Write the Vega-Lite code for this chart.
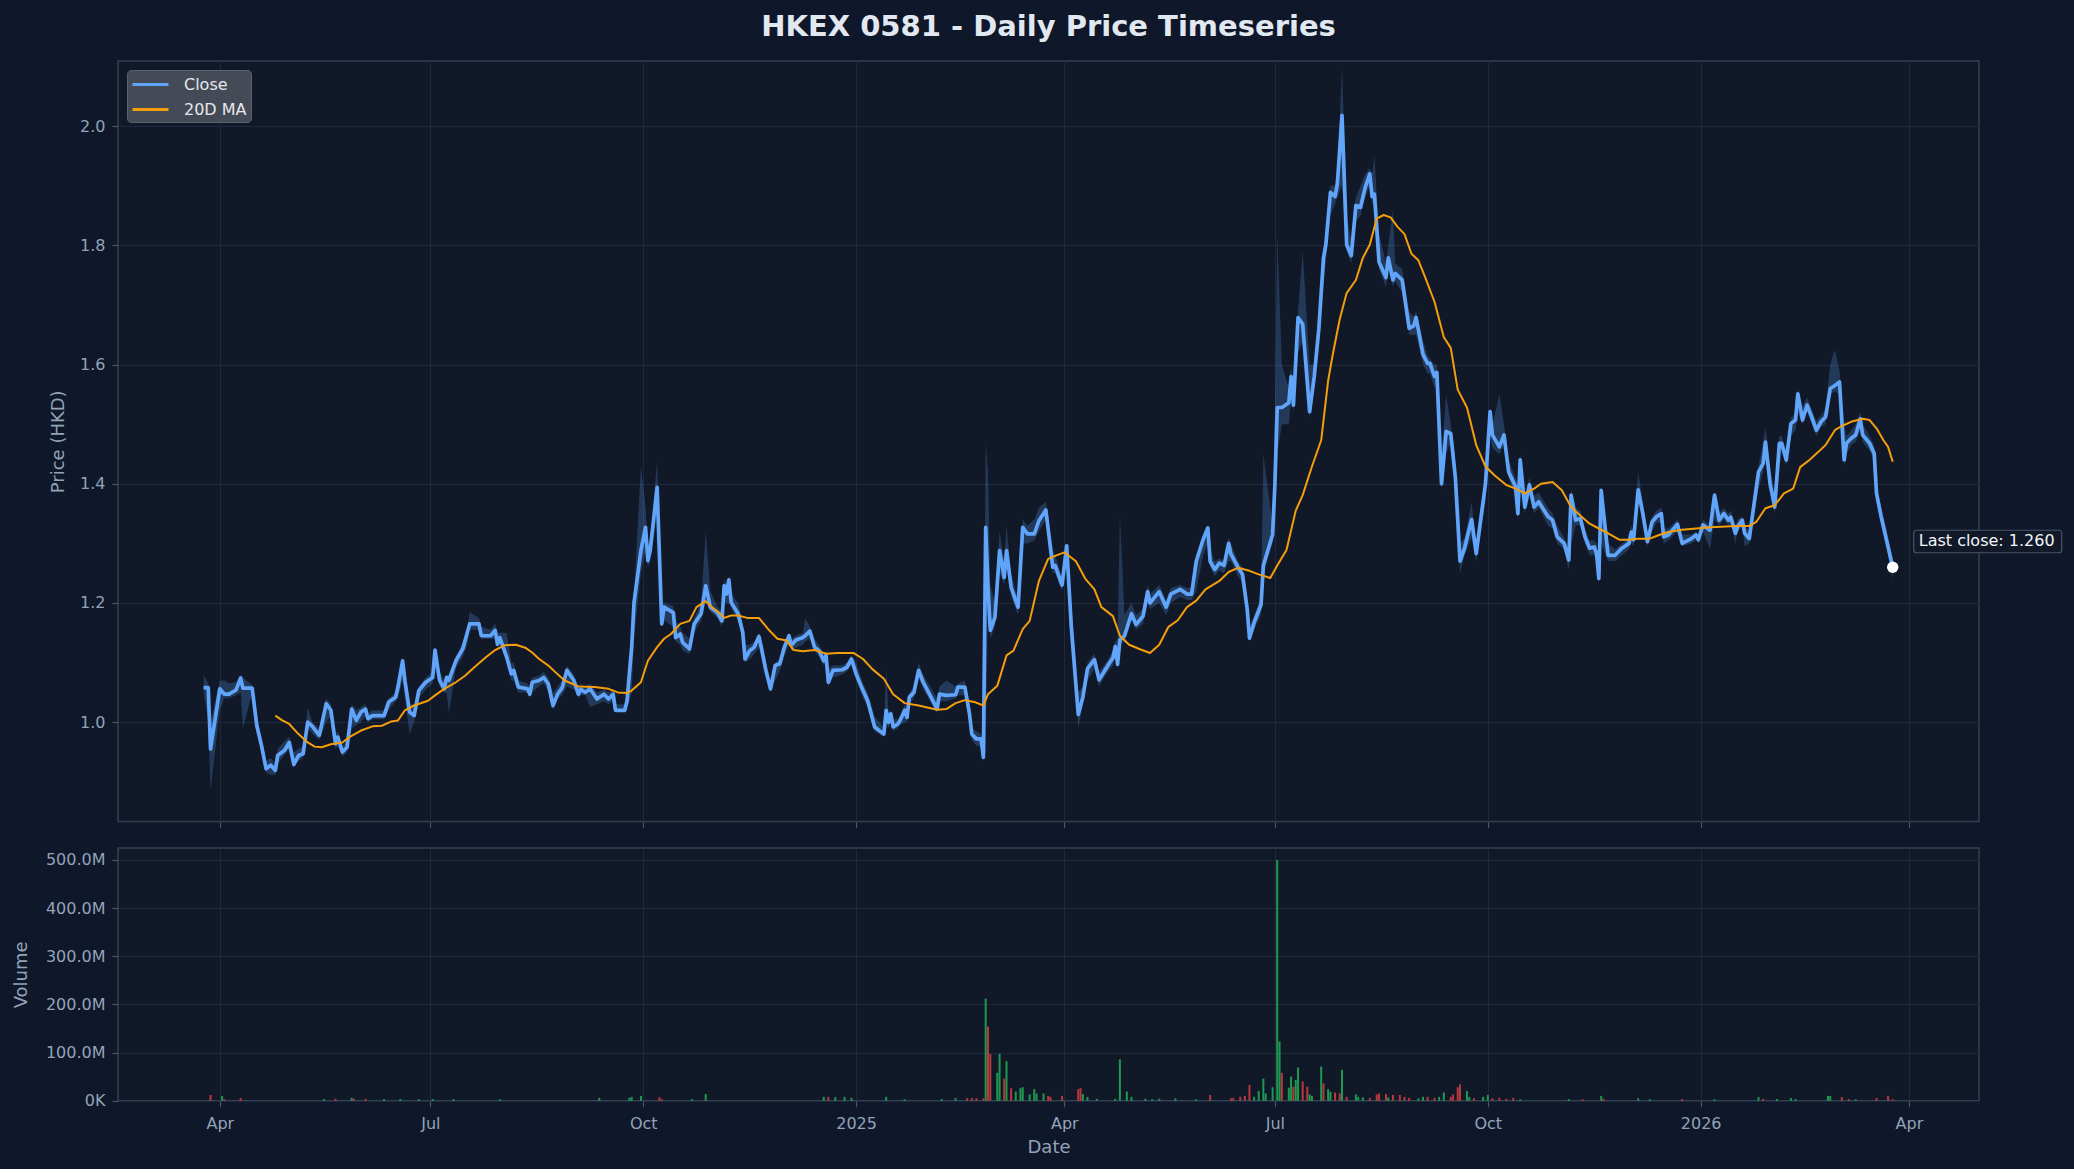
{
  "$schema": "https://vega.github.io/schema/vega-lite/v6.json",
  "background": "#0f172a",
  "padding": {"left": 11, "top": 12, "right": 11, "bottom": 11},
  "config": {
    "font": "DejaVu Sans",
    "view": {"fill": "#111827", "stroke": "#334155", "strokeWidth": 1.5},
    "axis": {
      "domain": false, "grid": true, "gridColor": "#1e293b", "gridWidth": 1,
      "tickColor": "#475569", "tickSize": 6, "tickWidth": 1.2,
      "labelColor": "#94a3b8", "labelFont": "DejaVu Sans", "labelFontSize": 16, "labelPadding": 7,
      "titleColor": "#94a3b8", "titleFont": "DejaVu Sans", "titleFontSize": 18, "titleFontWeight": "normal"
    }
  },
  "resolve": {"scale": {"color": "independent"}, "legend": {"color": "independent"}},
  "datasets": {
    "px": [
      {"t":"2024-03-25","c":1.058,"h":1.08,"l":1.05},
      {"t":"2024-03-27","c":1.058,"h":1.065,"l":1.0},
      {"t":"2024-03-28","c":0.955,"h":1.0,"l":0.885},
      {"t":"2024-04-01","c":1.056,"h":1.07,"l":1.02},
      {"t":"2024-04-03","c":1.047,"h":1.07,"l":1.04},
      {"t":"2024-04-05","c":1.047,"h":1.065,"l":1.04},
      {"t":"2024-04-08","c":1.054,"h":1.068,"l":1.045},
      {"t":"2024-04-10","c":1.074,"h":1.08,"l":1.05},
      {"t":"2024-04-11","c":1.057,"h":1.075,"l":0.99},
      {"t":"2024-04-15","c":1.057,"h":1.062,"l":1.05},
      {"t":"2024-04-17","c":0.994,"h":1.01,"l":0.985},
      {"t":"2024-04-19","c":0.961,"h":0.975,"l":0.95},
      {"t":"2024-04-21","c":0.922,"h":0.935,"l":0.915},
      {"t":"2024-04-23","c":0.928,"h":0.94,"l":0.912},
      {"t":"2024-04-25","c":0.919,"h":0.93,"l":0.912},
      {"t":"2024-04-26","c":0.944,"h":0.955,"l":0.93},
      {"t":"2024-04-29","c":0.953,"h":0.968,"l":0.945},
      {"t":"2024-05-01","c":0.966,"h":0.975,"l":0.955},
      {"t":"2024-05-03","c":0.929,"h":0.95,"l":0.925},
      {"t":"2024-05-05","c":0.944,"h":0.955,"l":0.935},
      {"t":"2024-05-07","c":0.947,"h":0.96,"l":0.94},
      {"t":"2024-05-09","c":1.0,"h":1.025,"l":0.99},
      {"t":"2024-05-11","c":0.993,"h":1.0,"l":0.98},
      {"t":"2024-05-14","c":0.978,"h":0.99,"l":0.97},
      {"t":"2024-05-17","c":1.031,"h":1.04,"l":1.0},
      {"t":"2024-05-19","c":1.02,"h":1.03,"l":1.01},
      {"t":"2024-05-21","c":0.964,"h":0.98,"l":0.955},
      {"t":"2024-05-22","c":0.975,"h":0.985,"l":0.96},
      {"t":"2024-05-24","c":0.95,"h":0.96,"l":0.942},
      {"t":"2024-05-26","c":0.958,"h":0.97,"l":0.95},
      {"t":"2024-05-28","c":1.022,"h":1.03,"l":0.99},
      {"t":"2024-05-30","c":1.003,"h":1.02,"l":0.995},
      {"t":"2024-06-01","c":1.017,"h":1.025,"l":1.0},
      {"t":"2024-06-03","c":1.022,"h":1.03,"l":1.01},
      {"t":"2024-06-04","c":1.006,"h":1.015,"l":1.0},
      {"t":"2024-06-06","c":1.011,"h":1.02,"l":1.005},
      {"t":"2024-06-11","c":1.011,"h":1.02,"l":1.005},
      {"t":"2024-06-13","c":1.034,"h":1.04,"l":1.02},
      {"t":"2024-06-16","c":1.042,"h":1.05,"l":1.035},
      {"t":"2024-06-17","c":1.059,"h":1.065,"l":1.04},
      {"t":"2024-06-19","c":1.103,"h":1.11,"l":1.07},
      {"t":"2024-06-20","c":1.07,"h":1.09,"l":1.04},
      {"t":"2024-06-22","c":1.017,"h":1.03,"l":0.98},
      {"t":"2024-06-24","c":1.011,"h":1.03,"l":1.0},
      {"t":"2024-06-26","c":1.053,"h":1.06,"l":1.04},
      {"t":"2024-06-29","c":1.067,"h":1.075,"l":1.055},
      {"t":"2024-07-02","c":1.075,"h":1.085,"l":1.065},
      {"t":"2024-07-03","c":1.121,"h":1.125,"l":1.09},
      {"t":"2024-07-05","c":1.07,"h":1.085,"l":1.06},
      {"t":"2024-07-07","c":1.056,"h":1.07,"l":1.05},
      {"t":"2024-07-08","c":1.075,"h":1.08,"l":1.05},
      {"t":"2024-07-09","c":1.07,"h":1.08,"l":1.015},
      {"t":"2024-07-12","c":1.103,"h":1.11,"l":1.09},
      {"t":"2024-07-15","c":1.123,"h":1.135,"l":1.11},
      {"t":"2024-07-17","c":1.151,"h":1.16,"l":1.13},
      {"t":"2024-07-18","c":1.165,"h":1.185,"l":1.155},
      {"t":"2024-07-22","c":1.165,"h":1.175,"l":1.155},
      {"t":"2024-07-23","c":1.145,"h":1.16,"l":1.14},
      {"t":"2024-07-27","c":1.145,"h":1.155,"l":1.14},
      {"t":"2024-07-29","c":1.154,"h":1.165,"l":1.14},
      {"t":"2024-07-30","c":1.131,"h":1.15,"l":1.125},
      {"t":"2024-07-31","c":1.142,"h":1.15,"l":1.13},
      {"t":"2024-08-03","c":1.109,"h":1.15,"l":1.1},
      {"t":"2024-08-05","c":1.081,"h":1.1,"l":1.07},
      {"t":"2024-08-06","c":1.087,"h":1.1,"l":1.07},
      {"t":"2024-08-08","c":1.059,"h":1.07,"l":1.05},
      {"t":"2024-08-12","c":1.056,"h":1.065,"l":1.05},
      {"t":"2024-08-13","c":1.047,"h":1.06,"l":1.04},
      {"t":"2024-08-14","c":1.067,"h":1.075,"l":1.05},
      {"t":"2024-08-17","c":1.07,"h":1.078,"l":1.06},
      {"t":"2024-08-19","c":1.075,"h":1.085,"l":1.065},
      {"t":"2024-08-21","c":1.064,"h":1.075,"l":1.05},
      {"t":"2024-08-23","c":1.028,"h":1.05,"l":1.02},
      {"t":"2024-08-25","c":1.047,"h":1.06,"l":1.04},
      {"t":"2024-08-27","c":1.058,"h":1.07,"l":1.045},
      {"t":"2024-08-29","c":1.087,"h":1.095,"l":1.06},
      {"t":"2024-09-01","c":1.07,"h":1.08,"l":1.055},
      {"t":"2024-09-03","c":1.047,"h":1.06,"l":1.04},
      {"t":"2024-09-04","c":1.055,"h":1.065,"l":1.045},
      {"t":"2024-09-06","c":1.05,"h":1.06,"l":1.045},
      {"t":"2024-09-08","c":1.056,"h":1.065,"l":1.025},
      {"t":"2024-09-11","c":1.039,"h":1.05,"l":1.03},
      {"t":"2024-09-14","c":1.047,"h":1.055,"l":1.035},
      {"t":"2024-09-16","c":1.039,"h":1.05,"l":1.03},
      {"t":"2024-09-18","c":1.047,"h":1.055,"l":1.035},
      {"t":"2024-09-19","c":1.02,"h":1.03,"l":1.015},
      {"t":"2024-09-23","c":1.02,"h":1.03,"l":1.015},
      {"t":"2024-09-24","c":1.036,"h":1.045,"l":1.02},
      {"t":"2024-09-26","c":1.126,"h":1.135,"l":1.05},
      {"t":"2024-09-27","c":1.2,"h":1.21,"l":1.14},
      {"t":"2024-09-30","c":1.288,"h":1.43,"l":1.25},
      {"t":"2024-10-02","c":1.327,"h":1.36,"l":1.29},
      {"t":"2024-10-03","c":1.271,"h":1.3,"l":1.26},
      {"t":"2024-10-04","c":1.288,"h":1.3,"l":1.27},
      {"t":"2024-10-07","c":1.394,"h":1.44,"l":1.35},
      {"t":"2024-10-09","c":1.165,"h":1.2,"l":1.16},
      {"t":"2024-10-10","c":1.193,"h":1.2,"l":1.17},
      {"t":"2024-10-14","c":1.184,"h":1.195,"l":1.16},
      {"t":"2024-10-15","c":1.142,"h":1.17,"l":1.135},
      {"t":"2024-10-17","c":1.148,"h":1.16,"l":1.13},
      {"t":"2024-10-18","c":1.134,"h":1.15,"l":1.12},
      {"t":"2024-10-21","c":1.123,"h":1.14,"l":1.115},
      {"t":"2024-10-23","c":1.165,"h":1.175,"l":1.15},
      {"t":"2024-10-26","c":1.182,"h":1.2,"l":1.17},
      {"t":"2024-10-28","c":1.229,"h":1.32,"l":1.2},
      {"t":"2024-10-30","c":1.193,"h":1.22,"l":1.185},
      {"t":"2024-11-02","c":1.184,"h":1.195,"l":1.175},
      {"t":"2024-11-04","c":1.17,"h":1.185,"l":1.16},
      {"t":"2024-11-05","c":1.229,"h":1.24,"l":1.2},
      {"t":"2024-11-06","c":1.215,"h":1.23,"l":1.2},
      {"t":"2024-11-07","c":1.239,"h":1.245,"l":1.2},
      {"t":"2024-11-08","c":1.201,"h":1.215,"l":1.19},
      {"t":"2024-11-11","c":1.182,"h":1.2,"l":1.17},
      {"t":"2024-11-13","c":1.151,"h":1.165,"l":1.14},
      {"t":"2024-11-14","c":1.106,"h":1.13,"l":1.1},
      {"t":"2024-11-16","c":1.12,"h":1.13,"l":1.105},
      {"t":"2024-11-18","c":1.126,"h":1.135,"l":1.115},
      {"t":"2024-11-20","c":1.144,"h":1.15,"l":1.125},
      {"t":"2024-11-21","c":1.126,"h":1.135,"l":1.11},
      {"t":"2024-11-23","c":1.087,"h":1.1,"l":1.075},
      {"t":"2024-11-25","c":1.056,"h":1.07,"l":1.05},
      {"t":"2024-11-27","c":1.095,"h":1.1,"l":1.07},
      {"t":"2024-11-29","c":1.098,"h":1.105,"l":1.085},
      {"t":"2024-12-01","c":1.126,"h":1.135,"l":1.11},
      {"t":"2024-12-03","c":1.145,"h":1.15,"l":1.13},
      {"t":"2024-12-04","c":1.129,"h":1.14,"l":1.12},
      {"t":"2024-12-06","c":1.138,"h":1.145,"l":1.125},
      {"t":"2024-12-09","c":1.142,"h":1.15,"l":1.13},
      {"t":"2024-12-10","c":1.145,"h":1.175,"l":1.135},
      {"t":"2024-12-12","c":1.153,"h":1.16,"l":1.14},
      {"t":"2024-12-14","c":1.126,"h":1.14,"l":1.12},
      {"t":"2024-12-16","c":1.12,"h":1.13,"l":1.11},
      {"t":"2024-12-18","c":1.103,"h":1.115,"l":1.095},
      {"t":"2024-12-19","c":1.112,"h":1.12,"l":1.1},
      {"t":"2024-12-20","c":1.067,"h":1.09,"l":1.06},
      {"t":"2024-12-22","c":1.087,"h":1.095,"l":1.075},
      {"t":"2024-12-26","c":1.088,"h":1.095,"l":1.08},
      {"t":"2024-12-28","c":1.092,"h":1.1,"l":1.085},
      {"t":"2024-12-30","c":1.106,"h":1.112,"l":1.095},
      {"t":"2025-01-01","c":1.081,"h":1.1,"l":1.07},
      {"t":"2025-01-04","c":1.053,"h":1.065,"l":1.04},
      {"t":"2025-01-06","c":1.036,"h":1.05,"l":1.025},
      {"t":"2025-01-09","c":0.992,"h":1.01,"l":0.985},
      {"t":"2025-01-13","c":0.98,"h":0.99,"l":0.975},
      {"t":"2025-01-14","c":1.02,"h":1.09,"l":1.0},
      {"t":"2025-01-15","c":1.0,"h":1.015,"l":0.99},
      {"t":"2025-01-16","c":1.014,"h":1.02,"l":1.0},
      {"t":"2025-01-17","c":0.992,"h":1.005,"l":0.985},
      {"t":"2025-01-19","c":0.997,"h":1.005,"l":0.99},
      {"t":"2025-01-20","c":1.003,"h":1.01,"l":0.995},
      {"t":"2025-01-22","c":1.02,"h":1.03,"l":1.0},
      {"t":"2025-01-23","c":1.008,"h":1.02,"l":1.0},
      {"t":"2025-01-24","c":1.042,"h":1.05,"l":1.03},
      {"t":"2025-01-26","c":1.05,"h":1.06,"l":1.04},
      {"t":"2025-01-28","c":1.087,"h":1.1,"l":1.075},
      {"t":"2025-01-30","c":1.067,"h":1.08,"l":1.055},
      {"t":"2025-02-02","c":1.045,"h":1.06,"l":1.035},
      {"t":"2025-02-05","c":1.022,"h":1.04,"l":1.015},
      {"t":"2025-02-06","c":1.047,"h":1.06,"l":1.035},
      {"t":"2025-02-09","c":1.045,"h":1.07,"l":1.035},
      {"t":"2025-02-13","c":1.046,"h":1.06,"l":1.04},
      {"t":"2025-02-14","c":1.059,"h":1.065,"l":1.045},
      {"t":"2025-02-17","c":1.059,"h":1.07,"l":1.045},
      {"t":"2025-02-19","c":1.014,"h":1.03,"l":1.0},
      {"t":"2025-02-20","c":0.98,"h":0.99,"l":0.97},
      {"t":"2025-02-22","c":0.972,"h":0.985,"l":0.96},
      {"t":"2025-02-24","c":0.972,"h":0.98,"l":0.96},
      {"t":"2025-02-25","c":0.941,"h":0.96,"l":0.935},
      {"t":"2025-02-26","c":1.327,"h":1.47,"l":0.95},
      {"t":"2025-02-27","c":1.226,"h":1.42,"l":1.2},
      {"t":"2025-02-28","c":1.154,"h":1.23,"l":1.14},
      {"t":"2025-03-02","c":1.176,"h":1.2,"l":1.16},
      {"t":"2025-03-04","c":1.288,"h":1.32,"l":1.25},
      {"t":"2025-03-06","c":1.243,"h":1.27,"l":1.23},
      {"t":"2025-03-07","c":1.288,"h":1.33,"l":1.27},
      {"t":"2025-03-09","c":1.226,"h":1.25,"l":1.21},
      {"t":"2025-03-11","c":1.204,"h":1.22,"l":1.19},
      {"t":"2025-03-12","c":1.193,"h":1.21,"l":1.18},
      {"t":"2025-03-14","c":1.327,"h":1.34,"l":1.3},
      {"t":"2025-03-16","c":1.316,"h":1.33,"l":1.3},
      {"t":"2025-03-19","c":1.316,"h":1.34,"l":1.305},
      {"t":"2025-03-21","c":1.338,"h":1.36,"l":1.32},
      {"t":"2025-03-24","c":1.356,"h":1.37,"l":1.34},
      {"t":"2025-03-27","c":1.26,"h":1.29,"l":1.25},
      {"t":"2025-03-28","c":1.263,"h":1.28,"l":1.25},
      {"t":"2025-03-31","c":1.23,"h":1.245,"l":1.22},
      {"t":"2025-04-02","c":1.296,"h":1.3,"l":1.26},
      {"t":"2025-04-04","c":1.16,"h":1.2,"l":1.14},
      {"t":"2025-04-07","c":1.013,"h":1.05,"l":0.99},
      {"t":"2025-04-09","c":1.042,"h":1.06,"l":1.03},
      {"t":"2025-04-11","c":1.09,"h":1.1,"l":1.07},
      {"t":"2025-04-14","c":1.105,"h":1.115,"l":1.09},
      {"t":"2025-04-16","c":1.071,"h":1.085,"l":1.06},
      {"t":"2025-04-19","c":1.09,"h":1.1,"l":1.08},
      {"t":"2025-04-22","c":1.108,"h":1.12,"l":1.095},
      {"t":"2025-04-23","c":1.127,"h":1.135,"l":1.11},
      {"t":"2025-04-24","c":1.097,"h":1.14,"l":1.09},
      {"t":"2025-04-25","c":1.138,"h":1.35,"l":1.13},
      {"t":"2025-04-27","c":1.145,"h":1.18,"l":1.135},
      {"t":"2025-04-30","c":1.182,"h":1.2,"l":1.17},
      {"t":"2025-05-02","c":1.164,"h":1.18,"l":1.155},
      {"t":"2025-05-05","c":1.178,"h":1.19,"l":1.165},
      {"t":"2025-05-07","c":1.219,"h":1.23,"l":1.2},
      {"t":"2025-05-08","c":1.2,"h":1.215,"l":1.19},
      {"t":"2025-05-12","c":1.219,"h":1.23,"l":1.2},
      {"t":"2025-05-15","c":1.193,"h":1.205,"l":1.18},
      {"t":"2025-05-17","c":1.215,"h":1.225,"l":1.2},
      {"t":"2025-05-21","c":1.223,"h":1.23,"l":1.21},
      {"t":"2025-05-24","c":1.215,"h":1.225,"l":1.205},
      {"t":"2025-05-26","c":1.215,"h":1.225,"l":1.205},
      {"t":"2025-05-28","c":1.27,"h":1.28,"l":1.22},
      {"t":"2025-05-31","c":1.307,"h":1.315,"l":1.28},
      {"t":"2025-06-02","c":1.326,"h":1.33,"l":1.3},
      {"t":"2025-06-03","c":1.27,"h":1.29,"l":1.26},
      {"t":"2025-06-05","c":1.256,"h":1.27,"l":1.245},
      {"t":"2025-06-07","c":1.267,"h":1.275,"l":1.255},
      {"t":"2025-06-09","c":1.263,"h":1.27,"l":1.25},
      {"t":"2025-06-11","c":1.3,"h":1.31,"l":1.27},
      {"t":"2025-06-12","c":1.282,"h":1.3,"l":1.27},
      {"t":"2025-06-15","c":1.26,"h":1.27,"l":1.245},
      {"t":"2025-06-17","c":1.248,"h":1.26,"l":1.235},
      {"t":"2025-06-19","c":1.19,"h":1.21,"l":1.18},
      {"t":"2025-06-20","c":1.141,"h":1.16,"l":1.135},
      {"t":"2025-06-22","c":1.167,"h":1.18,"l":1.155},
      {"t":"2025-06-25","c":1.197,"h":1.21,"l":1.18},
      {"t":"2025-06-26","c":1.263,"h":1.45,"l":1.25},
      {"t":"2025-06-30","c":1.315,"h":1.33,"l":1.3},
      {"t":"2025-07-01","c":1.4,"h":1.52,"l":1.38},
      {"t":"2025-07-02","c":1.528,"h":1.82,"l":1.45},
      {"t":"2025-07-04","c":1.528,"h":1.6,"l":1.5},
      {"t":"2025-07-07","c":1.536,"h":1.56,"l":1.5},
      {"t":"2025-07-08","c":1.58,"h":1.6,"l":1.54},
      {"t":"2025-07-09","c":1.532,"h":1.55,"l":1.52},
      {"t":"2025-07-11","c":1.679,"h":1.69,"l":1.62},
      {"t":"2025-07-13","c":1.668,"h":1.79,"l":1.64},
      {"t":"2025-07-16","c":1.521,"h":1.6,"l":1.51},
      {"t":"2025-07-18","c":1.58,"h":1.6,"l":1.56},
      {"t":"2025-07-20","c":1.661,"h":1.68,"l":1.63},
      {"t":"2025-07-22","c":1.779,"h":1.8,"l":1.74},
      {"t":"2025-07-23","c":1.801,"h":1.81,"l":1.77},
      {"t":"2025-07-25","c":1.889,"h":1.9,"l":1.85},
      {"t":"2025-07-27","c":1.882,"h":1.9,"l":1.87},
      {"t":"2025-07-28","c":1.904,"h":1.92,"l":1.88},
      {"t":"2025-07-30","c":2.018,"h":2.1,"l":1.9},
      {"t":"2025-08-01","c":1.801,"h":1.85,"l":1.79},
      {"t":"2025-08-03","c":1.783,"h":1.81,"l":1.77},
      {"t":"2025-08-05","c":1.867,"h":1.88,"l":1.84},
      {"t":"2025-08-07","c":1.864,"h":1.9,"l":1.85},
      {"t":"2025-08-09","c":1.897,"h":1.92,"l":1.88},
      {"t":"2025-08-11","c":1.92,"h":1.93,"l":1.9},
      {"t":"2025-08-12","c":1.882,"h":1.92,"l":1.87},
      {"t":"2025-08-13","c":1.886,"h":1.95,"l":1.87},
      {"t":"2025-08-15","c":1.772,"h":1.82,"l":1.76},
      {"t":"2025-08-18","c":1.746,"h":1.77,"l":1.73},
      {"t":"2025-08-19","c":1.779,"h":1.8,"l":1.76},
      {"t":"2025-08-21","c":1.742,"h":1.86,"l":1.73},
      {"t":"2025-08-22","c":1.753,"h":1.77,"l":1.74},
      {"t":"2025-08-25","c":1.742,"h":1.76,"l":1.72},
      {"t":"2025-08-28","c":1.661,"h":1.69,"l":1.65},
      {"t":"2025-08-30","c":1.665,"h":1.68,"l":1.65},
      {"t":"2025-08-31","c":1.679,"h":1.69,"l":1.65},
      {"t":"2025-09-03","c":1.617,"h":1.64,"l":1.6},
      {"t":"2025-09-05","c":1.602,"h":1.615,"l":1.585},
      {"t":"2025-09-06","c":1.602,"h":1.61,"l":1.585},
      {"t":"2025-09-08","c":1.58,"h":1.6,"l":1.56},
      {"t":"2025-09-09","c":1.587,"h":1.6,"l":1.57},
      {"t":"2025-09-11","c":1.4,"h":1.45,"l":1.39},
      {"t":"2025-09-13","c":1.488,"h":1.55,"l":1.45},
      {"t":"2025-09-15","c":1.484,"h":1.5,"l":1.47},
      {"t":"2025-09-17","c":1.41,"h":1.44,"l":1.4},
      {"t":"2025-09-19","c":1.27,"h":1.3,"l":1.25},
      {"t":"2025-09-21","c":1.293,"h":1.31,"l":1.28},
      {"t":"2025-09-24","c":1.34,"h":1.37,"l":1.31},
      {"t":"2025-09-26","c":1.283,"h":1.3,"l":1.27},
      {"t":"2025-09-30","c":1.4,"h":1.42,"l":1.37},
      {"t":"2025-10-02","c":1.521,"h":1.53,"l":1.48},
      {"t":"2025-10-03","c":1.482,"h":1.5,"l":1.46},
      {"t":"2025-10-06","c":1.462,"h":1.55,"l":1.45},
      {"t":"2025-10-08","c":1.482,"h":1.5,"l":1.465},
      {"t":"2025-10-10","c":1.42,"h":1.44,"l":1.41},
      {"t":"2025-10-13","c":1.395,"h":1.41,"l":1.38},
      {"t":"2025-10-14","c":1.35,"h":1.4,"l":1.34},
      {"t":"2025-10-15","c":1.44,"h":1.45,"l":1.39},
      {"t":"2025-10-17","c":1.361,"h":1.38,"l":1.35},
      {"t":"2025-10-19","c":1.398,"h":1.41,"l":1.38},
      {"t":"2025-10-21","c":1.361,"h":1.38,"l":1.35},
      {"t":"2025-10-23","c":1.37,"h":1.385,"l":1.36},
      {"t":"2025-10-27","c":1.345,"h":1.36,"l":1.33},
      {"t":"2025-10-29","c":1.339,"h":1.35,"l":1.325},
      {"t":"2025-10-31","c":1.311,"h":1.33,"l":1.3},
      {"t":"2025-11-03","c":1.3,"h":1.31,"l":1.29},
      {"t":"2025-11-05","c":1.272,"h":1.29,"l":1.255},
      {"t":"2025-11-06","c":1.381,"h":1.39,"l":1.3},
      {"t":"2025-11-08","c":1.339,"h":1.36,"l":1.33},
      {"t":"2025-11-10","c":1.342,"h":1.355,"l":1.33},
      {"t":"2025-11-12","c":1.311,"h":1.325,"l":1.3},
      {"t":"2025-11-14","c":1.292,"h":1.305,"l":1.28},
      {"t":"2025-11-16","c":1.294,"h":1.305,"l":1.28},
      {"t":"2025-11-17","c":1.283,"h":1.3,"l":1.27},
      {"t":"2025-11-18","c":1.241,"h":1.27,"l":1.235},
      {"t":"2025-11-19","c":1.389,"h":1.395,"l":1.3},
      {"t":"2025-11-22","c":1.28,"h":1.3,"l":1.27},
      {"t":"2025-11-25","c":1.28,"h":1.29,"l":1.27},
      {"t":"2025-11-28","c":1.292,"h":1.3,"l":1.28},
      {"t":"2025-12-01","c":1.3,"h":1.31,"l":1.29},
      {"t":"2025-12-02","c":1.319,"h":1.33,"l":1.3},
      {"t":"2025-12-03","c":1.306,"h":1.32,"l":1.295},
      {"t":"2025-12-05","c":1.39,"h":1.42,"l":1.37},
      {"t":"2025-12-07","c":1.35,"h":1.37,"l":1.34},
      {"t":"2025-12-09","c":1.303,"h":1.32,"l":1.295},
      {"t":"2025-12-11","c":1.336,"h":1.345,"l":1.32},
      {"t":"2025-12-13","c":1.345,"h":1.355,"l":1.335},
      {"t":"2025-12-15","c":1.35,"h":1.36,"l":1.335},
      {"t":"2025-12-16","c":1.311,"h":1.325,"l":1.3},
      {"t":"2025-12-18","c":1.314,"h":1.325,"l":1.305},
      {"t":"2025-12-22","c":1.332,"h":1.34,"l":1.32},
      {"t":"2025-12-24","c":1.3,"h":1.315,"l":1.295},
      {"t":"2025-12-28","c":1.308,"h":1.315,"l":1.3},
      {"t":"2025-12-30","c":1.314,"h":1.32,"l":1.305},
      {"t":"2025-12-31","c":1.306,"h":1.315,"l":1.3},
      {"t":"2026-01-02","c":1.331,"h":1.34,"l":1.32},
      {"t":"2026-01-05","c":1.322,"h":1.33,"l":1.29},
      {"t":"2026-01-07","c":1.381,"h":1.385,"l":1.34},
      {"t":"2026-01-09","c":1.339,"h":1.35,"l":1.33},
      {"t":"2026-01-11","c":1.35,"h":1.36,"l":1.34},
      {"t":"2026-01-13","c":1.339,"h":1.35,"l":1.33},
      {"t":"2026-01-14","c":1.344,"h":1.355,"l":1.335},
      {"t":"2026-01-16","c":1.317,"h":1.33,"l":1.3},
      {"t":"2026-01-17","c":1.328,"h":1.34,"l":1.32},
      {"t":"2026-01-19","c":1.339,"h":1.345,"l":1.33},
      {"t":"2026-01-20","c":1.317,"h":1.33,"l":1.295},
      {"t":"2026-01-22","c":1.308,"h":1.32,"l":1.3},
      {"t":"2026-01-24","c":1.364,"h":1.38,"l":1.35},
      {"t":"2026-01-26","c":1.42,"h":1.43,"l":1.39},
      {"t":"2026-01-28","c":1.434,"h":1.47,"l":1.42},
      {"t":"2026-01-29","c":1.47,"h":1.495,"l":1.45},
      {"t":"2026-01-31","c":1.4,"h":1.43,"l":1.39},
      {"t":"2026-02-02","c":1.361,"h":1.38,"l":1.35},
      {"t":"2026-02-04","c":1.468,"h":1.48,"l":1.42},
      {"t":"2026-02-05","c":1.468,"h":1.48,"l":1.455},
      {"t":"2026-02-07","c":1.44,"h":1.455,"l":1.43},
      {"t":"2026-02-09","c":1.501,"h":1.51,"l":1.48},
      {"t":"2026-02-11","c":1.507,"h":1.52,"l":1.49},
      {"t":"2026-02-12","c":1.551,"h":1.56,"l":1.52},
      {"t":"2026-02-14","c":1.507,"h":1.53,"l":1.5},
      {"t":"2026-02-16","c":1.532,"h":1.545,"l":1.52},
      {"t":"2026-02-18","c":1.512,"h":1.525,"l":1.5},
      {"t":"2026-02-20","c":1.49,"h":1.505,"l":1.48},
      {"t":"2026-02-22","c":1.504,"h":1.515,"l":1.495},
      {"t":"2026-02-24","c":1.512,"h":1.525,"l":1.5},
      {"t":"2026-02-26","c":1.56,"h":1.6,"l":1.55},
      {"t":"2026-02-28","c":1.565,"h":1.625,"l":1.555},
      {"t":"2026-03-02","c":1.571,"h":1.59,"l":1.55},
      {"t":"2026-03-04","c":1.44,"h":1.5,"l":1.43},
      {"t":"2026-03-05","c":1.468,"h":1.48,"l":1.45},
      {"t":"2026-03-07","c":1.476,"h":1.49,"l":1.465},
      {"t":"2026-03-09","c":1.482,"h":1.5,"l":1.47},
      {"t":"2026-03-11","c":1.509,"h":1.52,"l":1.49},
      {"t":"2026-03-12","c":1.482,"h":1.5,"l":1.47},
      {"t":"2026-03-15","c":1.468,"h":1.48,"l":1.455},
      {"t":"2026-03-17","c":1.451,"h":1.465,"l":1.44},
      {"t":"2026-03-18","c":1.384,"h":1.4,"l":1.37},
      {"t":"2026-03-20","c":1.345,"h":1.36,"l":1.33},
      {"t":"2026-03-22","c":1.311,"h":1.33,"l":1.3},
      {"t":"2026-03-25","c":1.26,"h":1.275,"l":1.24}
    ],
    "ma": [
      {"t":"2024-04-25","ma":1.011},{"t":"2024-04-28","ma":1.003},{"t":"2024-05-01","ma":0.997},{"t":"2024-05-05","ma":0.98},
      {"t":"2024-05-09","ma":0.966},{"t":"2024-05-12","ma":0.959},{"t":"2024-05-15","ma":0.958},{"t":"2024-05-19","ma":0.963},
      {"t":"2024-05-24","ma":0.966},{"t":"2024-05-27","ma":0.975},{"t":"2024-06-01","ma":0.986},{"t":"2024-06-06","ma":0.993},
      {"t":"2024-06-10","ma":0.994},{"t":"2024-06-14","ma":1.001},{"t":"2024-06-17","ma":1.003},{"t":"2024-06-20","ma":1.02},
      {"t":"2024-06-24","ma":1.028},{"t":"2024-06-30","ma":1.036},{"t":"2024-07-03","ma":1.045},{"t":"2024-07-07","ma":1.056},
      {"t":"2024-07-12","ma":1.067},{"t":"2024-07-16","ma":1.078},{"t":"2024-07-20","ma":1.092},{"t":"2024-07-25","ma":1.109},
      {"t":"2024-07-29","ma":1.121},{"t":"2024-08-02","ma":1.129},{"t":"2024-08-07","ma":1.13},{"t":"2024-08-11","ma":1.125},
      {"t":"2024-08-14","ma":1.117},{"t":"2024-08-17","ma":1.106},{"t":"2024-08-21","ma":1.095},{"t":"2024-08-24","ma":1.084},
      {"t":"2024-08-28","ma":1.07},{"t":"2024-09-03","ma":1.06},{"t":"2024-09-10","ma":1.059},{"t":"2024-09-16","ma":1.056},
      {"t":"2024-09-20","ma":1.05},{"t":"2024-09-24","ma":1.049},{"t":"2024-09-26","ma":1.053},{"t":"2024-09-30","ma":1.067},
      {"t":"2024-10-03","ma":1.103},{"t":"2024-10-07","ma":1.126},{"t":"2024-10-10","ma":1.14},{"t":"2024-10-13","ma":1.148},
      {"t":"2024-10-17","ma":1.165},{"t":"2024-10-21","ma":1.17},{"t":"2024-10-24","ma":1.193},{"t":"2024-10-28","ma":1.203},
      {"t":"2024-10-31","ma":1.192},{"t":"2024-11-03","ma":1.183},{"t":"2024-11-05","ma":1.175},{"t":"2024-11-08","ma":1.179},
      {"t":"2024-11-11","ma":1.179},{"t":"2024-11-15","ma":1.175},{"t":"2024-11-20","ma":1.175},{"t":"2024-11-24","ma":1.156},
      {"t":"2024-11-28","ma":1.14},{"t":"2024-12-02","ma":1.137},{"t":"2024-12-05","ma":1.121},{"t":"2024-12-09","ma":1.119},
      {"t":"2024-12-14","ma":1.121},{"t":"2024-12-19","ma":1.115},{"t":"2024-12-24","ma":1.116},{"t":"2024-12-31","ma":1.116},
      {"t":"2025-01-04","ma":1.106},{"t":"2025-01-08","ma":1.089},{"t":"2025-01-13","ma":1.073},{"t":"2025-01-17","ma":1.047},
      {"t":"2025-01-22","ma":1.032},{"t":"2025-01-28","ma":1.028},{"t":"2025-02-05","ma":1.021},{"t":"2025-02-09","ma":1.022},
      {"t":"2025-02-13","ma":1.032},{"t":"2025-02-17","ma":1.037},{"t":"2025-02-21","ma":1.034},{"t":"2025-02-25","ma":1.028},
      {"t":"2025-02-27","ma":1.047},{"t":"2025-03-03","ma":1.061},{"t":"2025-03-07","ma":1.112},{"t":"2025-03-10","ma":1.12},
      {"t":"2025-03-14","ma":1.156},{"t":"2025-03-17","ma":1.17},{"t":"2025-03-21","ma":1.237},{"t":"2025-03-25","ma":1.274},
      {"t":"2025-03-28","ma":1.279},{"t":"2025-04-01","ma":1.285},{"t":"2025-04-06","ma":1.27},{"t":"2025-04-10","ma":1.241},
      {"t":"2025-04-14","ma":1.223},{"t":"2025-04-17","ma":1.193},{"t":"2025-04-22","ma":1.178},{"t":"2025-04-25","ma":1.145},
      {"t":"2025-04-29","ma":1.13},{"t":"2025-05-04","ma":1.122},{"t":"2025-05-08","ma":1.116},{"t":"2025-05-12","ma":1.13},
      {"t":"2025-05-16","ma":1.16},{"t":"2025-05-20","ma":1.171},{"t":"2025-05-24","ma":1.193},{"t":"2025-05-28","ma":1.204},
      {"t":"2025-06-01","ma":1.223},{"t":"2025-06-07","ma":1.237},{"t":"2025-06-11","ma":1.252},{"t":"2025-06-15","ma":1.259},
      {"t":"2025-06-20","ma":1.254},{"t":"2025-06-24","ma":1.248},{"t":"2025-06-29","ma":1.242},{"t":"2025-07-02","ma":1.263},
      {"t":"2025-07-06","ma":1.289},{"t":"2025-07-10","ma":1.355},{"t":"2025-07-13","ma":1.381},{"t":"2025-07-17","ma":1.429},
      {"t":"2025-07-21","ma":1.473},{"t":"2025-07-24","ma":1.573},{"t":"2025-07-26","ma":1.617},{"t":"2025-07-29","ma":1.676},
      {"t":"2025-08-01","ma":1.72},{"t":"2025-08-05","ma":1.742},{"t":"2025-08-08","ma":1.779},{"t":"2025-08-11","ma":1.801},
      {"t":"2025-08-14","ma":1.845},{"t":"2025-08-17","ma":1.851},{"t":"2025-08-20","ma":1.847},{"t":"2025-08-23","ma":1.831},
      {"t":"2025-08-26","ma":1.819},{"t":"2025-08-29","ma":1.786},{"t":"2025-09-01","ma":1.775},{"t":"2025-09-04","ma":1.746},
      {"t":"2025-09-08","ma":1.705},{"t":"2025-09-12","ma":1.646},{"t":"2025-09-15","ma":1.628},{"t":"2025-09-18","ma":1.558},
      {"t":"2025-09-22","ma":1.528},{"t":"2025-09-26","ma":1.465},{"t":"2025-09-30","ma":1.429},{"t":"2025-10-04","ma":1.414},
      {"t":"2025-10-09","ma":1.398},{"t":"2025-10-13","ma":1.392},{"t":"2025-10-17","ma":1.384},{"t":"2025-10-21","ma":1.392},
      {"t":"2025-10-24","ma":1.4},{"t":"2025-10-29","ma":1.403},{"t":"2025-11-02","ma":1.389},{"t":"2025-11-06","ma":1.361},
      {"t":"2025-11-09","ma":1.35},{"t":"2025-11-14","ma":1.333},{"t":"2025-11-18","ma":1.325},{"t":"2025-11-22","ma":1.317},
      {"t":"2025-11-27","ma":1.306},{"t":"2025-12-01","ma":1.306},{"t":"2025-12-05","ma":1.308},{"t":"2025-12-10","ma":1.308},
      {"t":"2025-12-14","ma":1.314},{"t":"2025-12-18","ma":1.319},{"t":"2025-12-24","ma":1.323},{"t":"2025-12-30","ma":1.325},
      {"t":"2026-01-05","ma":1.327},{"t":"2026-01-10","ma":1.328},{"t":"2026-01-16","ma":1.329},{"t":"2026-01-22","ma":1.329},
      {"t":"2026-01-25","ma":1.336},{"t":"2026-01-29","ma":1.359},{"t":"2026-02-02","ma":1.364},{"t":"2026-02-06","ma":1.384},
      {"t":"2026-02-10","ma":1.392},{"t":"2026-02-13","ma":1.428},{"t":"2026-02-17","ma":1.44},{"t":"2026-02-21","ma":1.454},
      {"t":"2026-02-24","ma":1.465},{"t":"2026-02-28","ma":1.49},{"t":"2026-03-03","ma":1.497},{"t":"2026-03-07","ma":1.504},
      {"t":"2026-03-12","ma":1.509},{"t":"2026-03-15","ma":1.507},{"t":"2026-03-18","ma":1.493},{"t":"2026-03-21","ma":1.473},
      {"t":"2026-03-23","ma":1.462},{"t":"2026-03-25","ma":1.437}
    ],
    "vol": [
      {"t":"2024-03-28","v":11800000,"dir":"down"},{"t":"2024-04-02","v":9700000,"dir":"up"},{"t":"2024-04-03","v":3000000,"dir":"down"},
      {"t":"2024-04-10","v":5500000,"dir":"down"},{"t":"2024-05-16","v":3500000,"dir":"up"},{"t":"2024-05-21","v":4000000,"dir":"down"},
      {"t":"2024-05-28","v":6000000,"dir":"up"},{"t":"2024-05-29","v":4000000,"dir":"down"},{"t":"2024-06-03","v":4000000,"dir":"down"},
      {"t":"2024-06-11","v":3500000,"dir":"up"},{"t":"2024-06-18","v":3500000,"dir":"up"},{"t":"2024-06-26","v":3000000,"dir":"up"},
      {"t":"2024-07-02","v":3500000,"dir":"up"},{"t":"2024-07-11","v":3500000,"dir":"up"},{"t":"2024-07-31","v":3000000,"dir":"up"},
      {"t":"2024-09-12","v":6000000,"dir":"up"},{"t":"2024-09-25","v":6000000,"dir":"up"},{"t":"2024-09-26","v":8000000,"dir":"up"},
      {"t":"2024-09-30","v":10000000,"dir":"up"},{"t":"2024-10-08","v":7500000,"dir":"down"},{"t":"2024-10-09","v":3000000,"dir":"down"},
      {"t":"2024-10-22","v":3500000,"dir":"up"},{"t":"2024-10-28","v":14000000,"dir":"up"},{"t":"2024-12-18","v":8000000,"dir":"up"},
      {"t":"2024-12-20","v":8000000,"dir":"down"},{"t":"2024-12-23","v":7500000,"dir":"up"},{"t":"2024-12-27","v":8000000,"dir":"up"},
      {"t":"2024-12-30","v":6000000,"dir":"up"},{"t":"2025-01-14","v":8000000,"dir":"up"},{"t":"2025-01-22","v":3000000,"dir":"up"},
      {"t":"2025-02-07","v":3500000,"dir":"up"},{"t":"2025-02-13","v":5500000,"dir":"up"},{"t":"2025-02-18","v":5500000,"dir":"down"},
      {"t":"2025-02-20","v":5500000,"dir":"down"},{"t":"2025-02-22","v":5000000,"dir":"down"},{"t":"2025-02-25","v":5000000,"dir":"down"},
      {"t":"2025-02-26","v":212000000,"dir":"up"},{"t":"2025-02-27","v":154000000,"dir":"down"},{"t":"2025-02-28","v":97000000,"dir":"down"},
      {"t":"2025-03-03","v":58000000,"dir":"up"},{"t":"2025-03-04","v":97000000,"dir":"up"},{"t":"2025-03-06","v":46000000,"dir":"down"},
      {"t":"2025-03-07","v":82000000,"dir":"up"},{"t":"2025-03-09","v":26000000,"dir":"down"},{"t":"2025-03-11","v":19000000,"dir":"up"},
      {"t":"2025-03-13","v":26000000,"dir":"up"},{"t":"2025-03-14","v":28000000,"dir":"up"},{"t":"2025-03-17","v":13000000,"dir":"up"},
      {"t":"2025-03-19","v":24000000,"dir":"up"},{"t":"2025-03-20","v":15000000,"dir":"up"},{"t":"2025-03-23","v":15000000,"dir":"up"},
      {"t":"2025-03-25","v":10000000,"dir":"down"},{"t":"2025-03-26","v":8000000,"dir":"down"},{"t":"2025-03-31","v":10000000,"dir":"down"},
      {"t":"2025-04-07","v":24000000,"dir":"down"},{"t":"2025-04-08","v":26000000,"dir":"down"},{"t":"2025-04-09","v":14000000,"dir":"up"},
      {"t":"2025-04-11","v":8000000,"dir":"up"},{"t":"2025-04-15","v":4000000,"dir":"up"},{"t":"2025-04-23","v":4000000,"dir":"up"},
      {"t":"2025-04-25","v":86000000,"dir":"up"},{"t":"2025-04-28","v":19000000,"dir":"up"},{"t":"2025-04-30","v":8000000,"dir":"up"},
      {"t":"2025-05-06","v":4000000,"dir":"up"},{"t":"2025-05-09","v":3000000,"dir":"up"},{"t":"2025-05-12","v":4000000,"dir":"up"},
      {"t":"2025-05-19","v":5000000,"dir":"up"},{"t":"2025-05-28","v":3000000,"dir":"up"},{"t":"2025-06-03","v":12000000,"dir":"down"},
      {"t":"2025-06-12","v":5000000,"dir":"down"},{"t":"2025-06-13","v":6000000,"dir":"down"},{"t":"2025-06-16","v":8000000,"dir":"down"},
      {"t":"2025-06-18","v":10000000,"dir":"down"},{"t":"2025-06-20","v":33000000,"dir":"down"},{"t":"2025-06-22","v":8000000,"dir":"up"},
      {"t":"2025-06-24","v":20000000,"dir":"up"},{"t":"2025-06-26","v":46000000,"dir":"up"},{"t":"2025-06-27","v":15000000,"dir":"up"},
      {"t":"2025-06-30","v":28000000,"dir":"up"},{"t":"2025-07-02","v":500000000,"dir":"up"},{"t":"2025-07-03","v":123000000,"dir":"up"},
      {"t":"2025-07-04","v":58000000,"dir":"down"},{"t":"2025-07-07","v":27000000,"dir":"up"},{"t":"2025-07-08","v":50000000,"dir":"up"},
      {"t":"2025-07-09","v":29000000,"dir":"down"},{"t":"2025-07-10","v":43000000,"dir":"up"},{"t":"2025-07-11","v":69000000,"dir":"up"},
      {"t":"2025-07-13","v":40000000,"dir":"down"},{"t":"2025-07-15","v":29000000,"dir":"down"},{"t":"2025-07-16","v":13000000,"dir":"up"},
      {"t":"2025-07-17","v":10000000,"dir":"up"},{"t":"2025-07-21","v":71000000,"dir":"up"},{"t":"2025-07-22","v":36000000,"dir":"down"},
      {"t":"2025-07-24","v":24000000,"dir":"up"},{"t":"2025-07-25","v":19000000,"dir":"up"},{"t":"2025-07-27","v":17000000,"dir":"down"},
      {"t":"2025-07-29","v":15000000,"dir":"down"},{"t":"2025-07-30","v":64000000,"dir":"up"},{"t":"2025-08-01","v":8000000,"dir":"down"},
      {"t":"2025-08-05","v":13000000,"dir":"up"},{"t":"2025-08-06","v":8000000,"dir":"up"},{"t":"2025-08-08","v":7000000,"dir":"up"},
      {"t":"2025-08-11","v":6000000,"dir":"down"},{"t":"2025-08-14","v":13000000,"dir":"down"},{"t":"2025-08-15","v":15000000,"dir":"down"},
      {"t":"2025-08-18","v":14000000,"dir":"down"},{"t":"2025-08-19","v":7000000,"dir":"up"},{"t":"2025-08-21","v":12000000,"dir":"down"},
      {"t":"2025-08-24","v":12000000,"dir":"down"},{"t":"2025-08-26","v":8000000,"dir":"down"},{"t":"2025-08-28","v":6000000,"dir":"down"},
      {"t":"2025-09-01","v":5000000,"dir":"up"},{"t":"2025-09-03","v":8000000,"dir":"up"},{"t":"2025-09-05","v":8000000,"dir":"down"},
      {"t":"2025-09-08","v":6000000,"dir":"down"},{"t":"2025-09-10","v":8000000,"dir":"up"},{"t":"2025-09-12","v":17000000,"dir":"up"},
      {"t":"2025-09-15","v":8000000,"dir":"down"},{"t":"2025-09-16","v":13000000,"dir":"down"},{"t":"2025-09-18","v":28000000,"dir":"down"},
      {"t":"2025-09-19","v":34000000,"dir":"down"},{"t":"2025-09-22","v":20000000,"dir":"up"},{"t":"2025-09-23","v":8000000,"dir":"up"},
      {"t":"2025-09-25","v":5000000,"dir":"down"},{"t":"2025-09-29","v":8000000,"dir":"up"},{"t":"2025-10-01","v":12000000,"dir":"up"},
      {"t":"2025-10-03","v":5000000,"dir":"down"},{"t":"2025-10-06","v":6000000,"dir":"down"},{"t":"2025-10-09","v":4000000,"dir":"down"},
      {"t":"2025-10-12","v":6000000,"dir":"down"},{"t":"2025-10-15","v":3000000,"dir":"up"},{"t":"2025-11-05","v":3500000,"dir":"up"},
      {"t":"2025-11-11","v":3000000,"dir":"down"},{"t":"2025-11-19","v":10000000,"dir":"up"},{"t":"2025-11-20","v":4000000,"dir":"down"},
      {"t":"2025-12-05","v":5000000,"dir":"up"},{"t":"2025-12-10","v":3000000,"dir":"up"},{"t":"2025-12-24","v":3500000,"dir":"down"},
      {"t":"2026-01-07","v":3000000,"dir":"up"},{"t":"2026-01-26","v":7500000,"dir":"up"},{"t":"2026-01-28","v":4000000,"dir":"down"},
      {"t":"2026-02-03","v":3500000,"dir":"up"},{"t":"2026-02-09","v":5500000,"dir":"up"},{"t":"2026-02-11","v":3500000,"dir":"up"},
      {"t":"2026-02-25","v":10000000,"dir":"up"},{"t":"2026-02-26","v":10000000,"dir":"up"},{"t":"2026-03-03","v":7500000,"dir":"down"},
      {"t":"2026-03-06","v":3500000,"dir":"down"},{"t":"2026-03-09","v":3000000,"dir":"up"},{"t":"2026-03-18","v":5500000,"dir":"down"},
      {"t":"2026-03-23","v":10000000,"dir":"down"},{"t":"2026-03-25","v":3000000,"dir":"down"}
    ],
    "last": [{"t":"2026-03-25","c":1.26,"label":"Last close: 1.260"}]
  },
  "spacing": 18,
  "vconcat": [
    {
      "width": 1861,
      "height": 760.6,
      "title": {
        "text": "HKEX 0581 - Daily Price Timeseries",
        "anchor": "middle", "frame": "group", "font": "DejaVu Sans",
        "fontSize": 29, "fontWeight": "bold", "color": "#e2e8f0",
        "baseline": "alphabetic", "offset": -4
      },
      "layer": [
        {
          "data": {"name": "px"},
          "mark": {"type": "area", "color": "#60a5fa", "opacity": 0.24, "clip": true},
          "encoding": {
            "x": {
              "field": "t", "type": "temporal",
              "scale": {"type": "utc", "domain": [{"year": 2024, "month": 2, "date": 17, "utc": true}, {"year": 2026, "month": 5, "date": 1, "hours": 7, "utc": true}]},
              "axis": {
                "labels": false, "title": null, "grid": true,
                "values": [
                  {"year": 2024, "month": 4, "date": 1, "utc": true}, {"year": 2024, "month": 7, "date": 1, "utc": true},
                  {"year": 2024, "month": 10, "date": 1, "utc": true}, {"year": 2025, "month": 1, "date": 1, "utc": true},
                  {"year": 2025, "month": 4, "date": 1, "utc": true}, {"year": 2025, "month": 7, "date": 1, "utc": true},
                  {"year": 2025, "month": 10, "date": 1, "utc": true}, {"year": 2026, "month": 1, "date": 1, "utc": true},
                  {"year": 2026, "month": 4, "date": 1, "utc": true}
                ]
              }
            },
            "y": {
              "field": "l", "type": "quantitative",
              "scale": {"domain": [0.8332, 2.1094], "nice": false, "zero": false},
              "axis": {"title": "Price (HKD)", "values": [1.0, 1.2, 1.4, 1.6, 1.8, 2.0], "format": ".1f", "titleX": -60, "titleBaseline": "middle"}
            },
            "y2": {"field": "h"}
          }
        },
        {
          "data": {"name": "px"},
          "mark": {"type": "line", "strokeWidth": 3.7, "strokeJoin": "round"},
          "encoding": {
            "x": {"field": "t", "type": "temporal"},
            "y": {"field": "c", "type": "quantitative"},
            "color": {
              "datum": "Close", "type": "nominal",
              "scale": {"domain": ["Close", "20D MA"], "range": ["#60a5fa", "#f59e0b"]},
              "legend": {
                "title": null, "orient": "top-left", "offset": 9,
                "fillColor": "#444b57", "strokeColor": "#5b6270", "cornerRadius": 4, "padding": 4,
                "labelColor": "#e5e7eb", "labelFont": "DejaVu Sans", "labelFontSize": 16, "labelOffset": 32,
                "symbolType": "M-1,0H3", "symbolSize": 324, "symbolStrokeWidth": 3, "rowPadding": 6
              }
            }
          }
        },
        {
          "data": {"name": "ma"},
          "mark": {"type": "line", "strokeWidth": 2, "strokeJoin": "round"},
          "encoding": {
            "x": {"field": "t", "type": "temporal"},
            "y": {"field": "ma", "type": "quantitative"},
            "color": {"datum": "20D MA", "type": "nominal"}
          }
        },
        {
          "data": {"name": "last"},
          "mark": {"type": "point", "filled": true, "color": "#ffffff", "opacity": 1, "size": 130},
          "encoding": {
            "x": {"field": "t", "type": "temporal"},
            "y": {"field": "c", "type": "quantitative"}
          }
        },
        {
          "data": {"name": "last"},
          "mark": {"type": "rect", "fill": "#111827", "stroke": "#475569", "strokeWidth": 1.2, "cornerRadius": 3,
                   "xOffset": 21, "x2Offset": 169, "yOffset": -37, "y2Offset": -14.5},
          "encoding": {
            "x": {"field": "t", "type": "temporal"},
            "x2": {"field": "t"},
            "y": {"field": "c", "type": "quantitative"},
            "y2": {"field": "c"}
          }
        },
        {
          "data": {"name": "last"},
          "mark": {"type": "text", "align": "left", "baseline": "middle", "dx": 26, "dy": -26, "fontSize": 16, "font": "DejaVu Sans", "color": "#f1f5f9"},
          "encoding": {
            "x": {"field": "t", "type": "temporal"},
            "y": {"field": "c", "type": "quantitative"},
            "text": {"field": "label"}
          }
        }
      ]
    },
    {
      "width": 1861,
      "height": 252.7,
      "data": {"name": "vol"},
      "mark": {"type": "bar", "size": 2, "opacity": 0.75},
      "encoding": {
        "x": {
          "field": "t", "type": "temporal", "title": "Date",
          "scale": {"type": "utc", "padding": 0, "domain": [{"year": 2024, "month": 2, "date": 17, "utc": true}, {"year": 2026, "month": 5, "date": 1, "hours": 7, "utc": true}]},
          "axis": {
            "grid": true, "titlePadding": 7, "labelPadding": 9,
            "labelExpr": "utcmonth(datum.value) === 0 ? utcFormat(datum.value, '%Y') : utcFormat(datum.value, '%b')",
            "values": [
              {"year": 2024, "month": 4, "date": 1, "utc": true}, {"year": 2024, "month": 7, "date": 1, "utc": true},
              {"year": 2024, "month": 10, "date": 1, "utc": true}, {"year": 2025, "month": 1, "date": 1, "utc": true},
              {"year": 2025, "month": 4, "date": 1, "utc": true}, {"year": 2025, "month": 7, "date": 1, "utc": true},
              {"year": 2025, "month": 10, "date": 1, "utc": true}, {"year": 2026, "month": 1, "date": 1, "utc": true},
              {"year": 2026, "month": 4, "date": 1, "utc": true}
            ]
          }
        },
        "y": {
          "field": "v", "type": "quantitative",
          "scale": {"domain": [0, 524700000], "nice": false},
          "axis": {
            "title": "Volume", "values": [0, 100000000, 200000000, 300000000, 400000000, 500000000],
            "labelExpr": "datum.value === 0 ? '0K' : format(datum.value / 1000000, '.1f') + 'M'",
            "titleX": -97, "titleBaseline": "middle"
          }
        },
        "color": {
          "field": "dir", "type": "nominal",
          "scale": {"domain": ["up", "down"], "range": ["#22c55e", "#ef4444"]},
          "legend": null
        }
      }
    }
  ]
}
